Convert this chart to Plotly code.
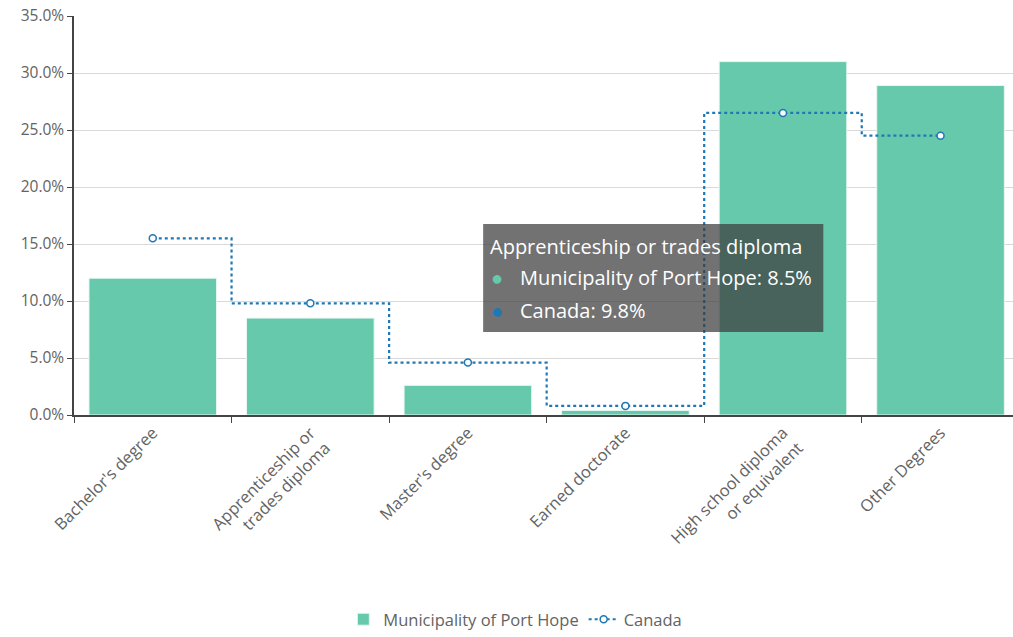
import plotly.graph_objects as go

categories = ["Bachelor's degree", "Apprenticeship or<br>trades diploma", "Master's degree",
              "Earned doctorate", "High school diploma<br>or equivalent", "Other Degrees"]
port_hope = [12.0, 8.5, 2.6, 0.4, 31.0, 28.9]
canada = [15.5, 9.8, 4.6, 0.8, 26.5, 24.5]

bar_color = "#66c9ab"
line_color = "#1f78b4"
font_family = "'Open Sans', sans-serif"
text_grey = "#636363"

fig = go.Figure()
fig.add_trace(go.Bar(x=categories, y=port_hope, name="Municipality of Port Hope",
                     marker=dict(color=bar_color, line=dict(color="#e8f7f2", width=1))))
fig.add_trace(go.Scatter(x=categories, y=canada, name="Canada", mode="lines+markers",
                         line=dict(color=line_color, width=2.2, dash="dot", shape="hvh"),
                         marker=dict(symbol="circle", size=7, color="white",
                                     line=dict(color=line_color, width=1.5))))

# static tooltip
tip_x0, tip_x1 = 2.097, 4.256
tip_y0, tip_y1 = 7.28, 16.75
fig.add_shape(type="rect", xref="x", yref="y", x0=tip_x0, x1=tip_x1, y0=tip_y0, y1=tip_y1,
              fillcolor="rgba(60,60,60,0.72)", line=dict(width=0), layer="above")
fig.add_annotation(xref="x", yref="y", x=tip_x0 + 0.03, y=14.74, xanchor="left", yanchor="middle",
                   text="Apprenticeship or trades diploma", showarrow=False,
                   font=dict(color="white", size=20, family=font_family))
fig.add_annotation(xref="x", yref="y", x=2.186, y=12.02, xanchor="center", yanchor="middle",
                   text="●", showarrow=False,
                   font=dict(color=bar_color, size=20, family=font_family))
fig.add_annotation(xref="x", yref="y", x=2.319, y=12.02, xanchor="left", yanchor="middle",
                   text="Municipality of Port Hope: 8.5%", showarrow=False,
                   font=dict(color="white", size=20, family=font_family))
fig.add_annotation(xref="x", yref="y", x=2.186, y=9.21, xanchor="center", yanchor="middle",
                   text="●", showarrow=False,
                   font=dict(color=line_color, size=20, family=font_family))
fig.add_annotation(xref="x", yref="y", x=2.319, y=9.21, xanchor="left", yanchor="middle",
                   text="Canada: 9.8%", showarrow=False,
                   font=dict(color="white", size=20, family=font_family))

fig.update_layout(
    width=1013, height=637,
    margin=dict(l=74, r=0, t=16, b=222),
    plot_bgcolor="white", paper_bgcolor="white",
    bargap=0.19,
    font=dict(family=font_family, color=text_grey, size=15),
    showlegend=True,
    legend=dict(orientation="h", x=0.47, xanchor="center", y=-0.47, yanchor="top",
                font=dict(size=16.5, color=text_grey)),
)
fig.update_xaxes(range=[-0.5, 5.46], tickangle=-45, tickson="boundaries", ticks="outside",
                 ticklen=6, tickcolor="#444", showline=True, linecolor="#444", linewidth=1.5,
                 showgrid=False, automargin=False, tickfont=dict(size=16.5, color=text_grey))
fig.update_yaxes(range=[0, 35], dtick=5, tickformat=".1f", ticksuffix="%", ticks="outside",
                 ticklen=5, tickcolor="#444", showline=True, linecolor="#444", linewidth=1.5,
                 showgrid=True, gridcolor="#d9d9d9", zeroline=False, automargin=False,
                 ticklabeloverflow="allow",
                 tickfont=dict(size=15.5, color=text_grey))

fig.write_html("out.html",
               config={"displayModeBar": False},
               post_script="document.body.style.margin='0px';"
                           "document.documentElement.style.overflow='hidden';")
